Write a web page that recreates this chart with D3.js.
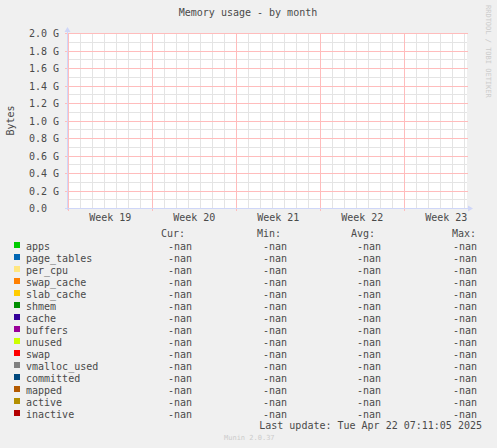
<!DOCTYPE html>
<html>
<head>
<meta charset="utf-8">
<script src="https://cdn.jsdelivr.net/npm/d3@7"></script>
<style>
  body { margin: 0; background: #f0f0f0; }
  svg text { font-family: "DejaVu Sans Mono", monospace; fill: #4a4a4a; }
</style>
</head>
<body>
<div id="chart"></div>
<script>
var title = 'Memory usage - by month'
var yLabel = 'Bytes'

// y axis in G, ticks every 0.2
var yMax = 2.0
var yTicks = [0, 0.2, 0.4, 0.6, 0.8, 1.0, 1.2, 1.4, 1.6, 1.8, 2.0]
var yMinorStep = 0.1

// x: time span shown by the graph
var xStart = new Date(2025, 4, 4, 21, 24)
var xEnd = new Date(2025, 5, 7, 5, 24)
var weekStarts = [new Date(2025, 4, 5), new Date(2025, 4, 12), new Date(2025, 4, 19), new Date(2025, 4, 26), new Date(2025, 5, 2)]
var weekLabels = ['Week 19', 'Week 20', 'Week 21', 'Week 22', 'Week 23']

var fields = ['apps', 'page_tables', 'per_cpu', 'swap_cache', 'slab_cache', 'shmem', 'cache', 'buffers',
  'unused', 'swap', 'vmalloc_used', 'committed', 'mapped', 'active', 'inactive']
var colors = ['#00cc00', '#0066b3', '#ffe680', '#ff8000', '#ffcc00', '#008f00', '#330099', '#990099',
  '#ccff00', '#ff0000', '#808080', '#00487d', '#b35a00', '#b38f00', '#b30000']
var curValues = fields.map(function() { return '-nan' })
var minValues = fields.map(function() { return '-nan' })
var avgValues = fields.map(function() { return '-nan' })
var maxValues = fields.map(function() { return '-nan' })
var lastUpdate = 'Last update: Tue Apr 22 07:11:05 2025'
var version = 'Munin 2.0.37'
var watermark = 'RRDTOOL / TOBI OETIKER'

var W = 497, H = 448
var plot = {left: 67, top: 33, width: 400, height: 175}

var svg = d3.select('#chart').append('svg')
  .attr('width', W)
  .attr('height', H)

svg.append('rect').attr('width', W).attr('height', H).attr('fill', '#f0f0f0')

var x = d3.scaleTime().domain([xStart, xEnd]).range([plot.left, plot.left + plot.width])
var y = d3.scaleLinear().domain([0, yMax]).range([plot.top + plot.height, plot.top])

var g = svg.append('g').attr('shape-rendering', 'crispEdges')

g.append('rect')
  .attr('x', plot.left).attr('y', plot.top)
  .attr('width', plot.width).attr('height', plot.height)
  .attr('fill', '#ffffff')

var minorColor = '#e4e4e4'
var majorColor = '#ffbcbc'
var weekPx = weekStarts.map(d => Math.round(x(d)))
var dayPx = d3.timeDay.range(xStart, xEnd).map(d => Math.round(x(d))).filter(px => weekPx.indexOf(px) < 0)

// minor grid
g.selectAll('.vminor').data(dayPx).enter().append('line')
  .attr('x1', d => d + 0.5).attr('x2', d => d + 0.5)
  .attr('y1', plot.top).attr('y2', plot.top + plot.height)
  .attr('stroke', minorColor)

g.selectAll('.hminor').data(d3.range(yMinorStep, yMax, yMinorStep * 2)).enter().append('line')
  .attr('x1', plot.left).attr('x2', plot.left + plot.width)
  .attr('y1', d => Math.round(y(d)) + 0.5).attr('y2', d => Math.round(y(d)) + 0.5)
  .attr('stroke', minorColor)

// major grid
g.selectAll('.vmajor').data(weekPx).enter().append('line')
  .attr('x1', d => d + 0.5).attr('x2', d => d + 0.5)
  .attr('y1', plot.top).attr('y2', plot.top + plot.height + 3)
  .attr('stroke', majorColor)

g.selectAll('.hmajor').data(yTicks.slice(1)).enter().append('line')
  .attr('x1', plot.left - 2).attr('x2', plot.left + plot.width + 1)
  .attr('y1', d => Math.round(y(d)) + 0.5).attr('y2', d => Math.round(y(d)) + 0.5)
  .attr('stroke', majorColor)

// axes
var axisColor = '#cfd6f8'
g.append('line')
  .attr('x1', plot.left + 0.5).attr('x2', plot.left + 0.5)
  .attr('y1', plot.top - 3).attr('y2', plot.top + plot.height + 2)
  .attr('stroke', axisColor)
g.append('line')
  .attr('x1', plot.left - 2).attr('x2', plot.left + plot.width + 4)
  .attr('y1', plot.top + plot.height + 0.5).attr('y2', plot.top + plot.height + 0.5)
  .attr('stroke', axisColor)
svg.append('path')
  .attr('d', 'M' + (plot.left - 2.5) + ',' + (plot.top - 1) + 'L' + (plot.left + 0.5) + ',' + (plot.top - 6) + 'L' + (plot.left + 3.5) + ',' + (plot.top - 1) + 'Z')
  .attr('fill', axisColor)
svg.append('path')
  .attr('d', 'M' + (plot.left + plot.width + 1) + ',' + (plot.top + plot.height - 2.5) + 'L' + (plot.left + plot.width + 6) + ',' + (plot.top + plot.height + 0.5) + 'L' + (plot.left + plot.width + 1) + ',' + (plot.top + plot.height + 3.5) + 'Z')
  .attr('fill', axisColor)

// y tick labels
svg.selectAll('.ylab').data(yTicks).enter().append('text')
  .attr('x', 29)
  .attr('y', d => y(d) + 4)
  .attr('font-size', '10px')
  .text(d => d === 0 ? '0.0' : d3.format('.1f')(d) + ' G')

// x week labels
svg.selectAll('.xlab').data(weekStarts).enter().append('text')
  .attr('x', d => x(d3.timeHour.offset(d, 84)))
  .attr('y', plot.top + plot.height + 13)
  .attr('text-anchor', 'middle')
  .attr('font-size', '10px')
  .text((d, i) => weekLabels[i])

svg.append('text')
  .attr('x', 248).attr('y', 16)
  .attr('text-anchor', 'middle')
  .attr('font-size', '10px')
  .text(title)

svg.append('text')
  .attr('transform', 'translate(14,' + (plot.top + plot.height / 2) + ') rotate(-90)')
  .attr('text-anchor', 'middle')
  .attr('font-size', '10px')
  .text(yLabel)

svg.append('text')
  .attr('transform', 'translate(486,5) rotate(90)')
  .attr('font-size', '7px')
  .style('fill', '#cccccc')
  .text(watermark)

// legend
var rowY = function(i) { return 245.5 + i * 12 }
var cols = [
  {head: 'Cur:', hx: 185, vx: 192, vals: curValues},
  {head: 'Min:', hx: 281, vx: 287, vals: minValues},
  {head: 'Avg:', hx: 375, vx: 381, vals: avgValues},
  {head: 'Max:', hx: 476, vx: 477, vals: maxValues}
]

cols.forEach(function(c) {
  svg.append('text')
    .attr('x', c.hx).attr('y', 237)
    .attr('text-anchor', 'end')
    .attr('font-size', '10px')
    .text(c.head)
  svg.selectAll(null).data(c.vals).enter().append('text')
    .attr('x', c.vx).attr('y', (d, i) => rowY(i) + 4)
    .attr('text-anchor', 'end')
    .attr('font-size', '10px')
    .text(d => d)
})

var legend = svg.selectAll('.legend').data(fields).enter().append('g')
legend.append('rect')
  .attr('x', 14).attr('y', (d, i) => rowY(i) - 3.5)
  .attr('width', 6).attr('height', 6)
  .attr('shape-rendering', 'crispEdges')
  .attr('fill', (d, i) => colors[i])
legend.append('text')
  .attr('x', 26).attr('y', (d, i) => rowY(i) + 4)
  .attr('font-size', '10px')
  .text(d => d)

svg.append('text')
  .attr('x', 482).attr('y', 428.5)
  .attr('text-anchor', 'end')
  .attr('font-size', '10px')
  .text(lastUpdate)

svg.append('text')
  .attr('x', 224).attr('y', 440)
  .attr('font-size', '7px')
  .style('fill', '#cccccc')
  .text(version)
</script>
</body>
</html>
